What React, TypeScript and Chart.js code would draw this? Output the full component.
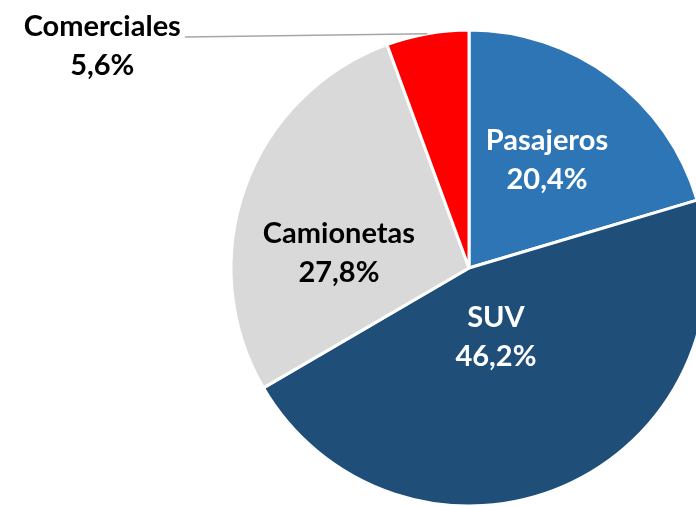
import React, { useEffect, useRef } from "react";
import { Chart, registerables } from "chart.js";

Chart.register(...registerables);

const categories = ["Pasajeros", "SUV", "Camionetas", "Comerciales"];
const shares = [20.4, 46.2, 27.8, 5.6];
const colors = ["#2E75B6", "#1F4E79", "#D9D9D9", "#FF0000"];
const labelColors = ["#FFFFFF", "#FFFFFF", "#000000", "#000000"];
// label placement: angle offset from slice middle (deg), radius factor, outside flag
const labelAngleOffset = [-0.9, 2, -13.3, -48.8];
const labelRadiusFactor = [0.56, 0.31, 0.55, 1.8];
const labelOutside = [false, false, false, true];

const FONT = "bold 29px Lato, 'Open Sans', sans-serif";
const LINE_GAP = 39;

const labelPlugin = {
  id: "sliceLabels",
  afterDatasetsDraw(chart: any) {
    const ctx = chart.ctx;
    const meta = chart.getDatasetMeta(0);
    meta.data.forEach((arc: any, i: number) => {
      const { x, y, startAngle, endAngle, outerRadius } = arc.getProps(
        ["x", "y", "startAngle", "endAngle", "outerRadius"],
        true
      );
      const mid = (startAngle + endAngle) / 2;
      const a = mid + (labelAngleOffset[i] * Math.PI) / 180;
      const r = outerRadius * labelRadiusFactor[i];
      const cx = x + Math.cos(a) * r;
      const cy = y + Math.sin(a) * r;
      const l1 = categories[i];
      const l2 = shares[i].toFixed(1).replace(".", ",") + "%";
      ctx.save();
      ctx.font = FONT;
      ctx.fillStyle = labelColors[i];
      ctx.textAlign = "center";
      ctx.textBaseline = "middle";
      ctx.fillText(l1, cx, cy - LINE_GAP / 2);
      ctx.fillText(l2, cx, cy + LINE_GAP / 2);
      if (labelOutside[i]) {
        const w = ctx.measureText(l1).width;
        const sx = cx + w / 2 + 4;
        const sy = cy - LINE_GAP / 2 + 10;
        const ex = x + Math.cos(mid) * outerRadius;
        const ey = y + Math.sin(mid) * outerRadius;
        ctx.strokeStyle = "#A6A6A6";
        ctx.lineWidth = 1.5;
        ctx.beginPath();
        ctx.moveTo(sx, sy);
        ctx.lineTo(ex, ey);
        ctx.stroke();
      }
      ctx.restore();
    });
  },
};

export default function App() {
  const ref = useRef<HTMLCanvasElement | null>(null);
  useEffect(() => {
    if (!ref.current) return;
    const chart = new Chart(ref.current, {
      type: "pie",
      data: {
        labels: categories,
        datasets: [
          {
            data: shares,
            backgroundColor: colors,
            borderColor: "#FFFFFF",
            borderWidth: 3,
          },
        ],
      },
      options: {
        responsive: false,
        maintainAspectRatio: false,
        animation: false,
        radius: 238,
        layout: { padding: { top: 30, bottom: 0, left: 0, right: 0 } },
        plugins: {
          legend: { display: false },
          tooltip: { enabled: false },
        },
      } as any,
      plugins: [labelPlugin],
    });
    return () => chart.destroy();
  }, []);
  return (
    <div
      style={{
        position: "fixed",
        left: 0,
        top: 0,
        width: 696,
        height: 506,
        overflow: "hidden",
        background: "#FFFFFF",
      }}
    >
      <canvas ref={ref} width={938} height={506} style={{ display: "block" }} />
    </div>
  );
}
